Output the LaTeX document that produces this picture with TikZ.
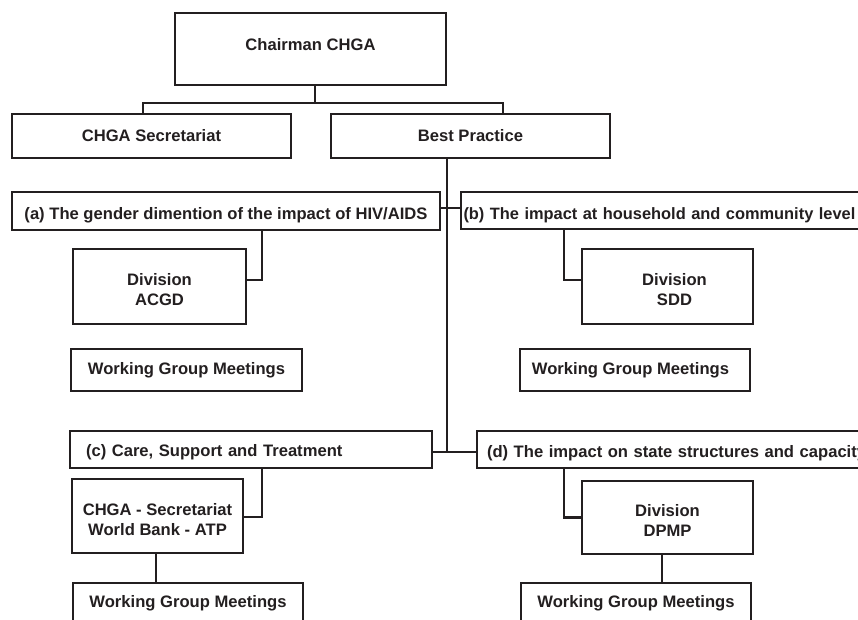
\documentclass[tikz,border=0pt]{standalone}
\usepackage{fontspec}
\setmainfont{Liberation Sans}
\definecolor{ink}{HTML}{231F20}
\begin{document}
\begin{tikzpicture}[x=1pt,y=-1pt,
  every node/.style={font=\fontsize{16.6}{20}\selectfont\bfseries, text=ink},
  box/.style={draw=ink, line width=2.1pt, inner sep=0pt},
  conn/.style={draw=ink, line width=2.1pt},
  one/.style={text height=#1, text depth=0pt},
  two/.style={align=center, text height=38pt, text depth=0pt}
]
\useasboundingbox (0,0) rectangle (858,620);
\fill[white] (0,0) rectangle (858,620);
\clip (0,0) rectangle (858,620);

\node[box, one=4pt, minimum width=271pt, minimum height=72pt] (chair) at (310.5,49) {Chairman CHGA};
\node[box, one=12pt, minimum width=279pt, minimum height=44pt] (sec) at (151.5,136) {CHGA Secretariat};
\node[box, one=12pt, minimum width=279pt, minimum height=44pt] (bp) at (470.5,136) {Best Practice};

\node[box, one=16pt, minimum width=428pt, minimum height=38pt] (a) at (226,211) {(a) The gender dimention of the impact of HIV/AIDS};
\node[box, one=17pt, minimum width=409pt, minimum height=37pt, inner xsep=2.5pt, text width=404pt, align=left, font=\fontsize{16.4}{20}\selectfont\bfseries] (b) at (665.5,210.5) {(b) The impact at household and community level};

\node[box, two, minimum width=173pt, minimum height=75pt] (acgd) at (159.5,286.5) {Division\\ACGD};
\node[box, two, minimum width=171pt, minimum height=75pt] (sdd) at (667.5,286.5) {\hspace*{14pt}Division\\\hspace*{14pt}SDD};

\node[box, one=8pt, minimum width=231pt, minimum height=42pt] (wgma) at (186.5,370) {Working Group Meetings};
\node[box, one=8pt, minimum width=230pt, minimum height=42pt] (wgmb) at (635,370) {Working Group Meetings\hspace*{9pt}};

\node[box, one=14pt, minimum width=362pt, minimum height=37pt, inner xsep=16pt, text width=330pt, align=left] (c) at (251,449.5) {(c) Care, Support and Treatment};
\node[box, one=16pt, minimum width=403pt, minimum height=37pt, inner xsep=10pt, text width=383pt, align=left] (d) at (678.5,449.5) {(d) The impact on state structures and capacity};

\node[box, two, minimum width=171pt, minimum height=74pt] (cw) at (157.5,516) {CHGA - Secretariat\\World Bank - ATP};
\node[box, two, minimum width=171pt, minimum height=73pt] (dpmp) at (667.5,517.5) {Division\\DPMP};

\node[box, one=7pt, minimum width=230pt, minimum height=41pt] (wgmc) at (188,603.5) {Working Group Meetings};
\node[box, one=7pt, minimum width=230pt, minimum height=41pt] (wgmd) at (636,603.5) {Working Group Meetings};

\coordinate (j) at (315,103);
\coordinate (m) at (447,452);

\draw[conn] ([xshift=4.5pt]chair.south) -- (j);
\draw[conn] ([xshift=-8.5pt]sec.north) |- (j) -| ([xshift=32.5pt]bp.north);
\draw[conn] ([xshift=-23.5pt]bp.south) -- (m);
\draw[conn] ([yshift=3pt]a.east) -- ([yshift=2.5pt]b.west);
\draw[conn] ([yshift=-2.5pt]c.east) -- ([yshift=-2.5pt]d.west);
\draw[conn] ([xshift=36pt]a.south) |- ([yshift=6.5pt]acgd.east);
\draw[conn] ([xshift=-101.5pt]b.south) |- ([yshift=6.5pt]sdd.west);
\draw[conn] ([xshift=11pt]c.south) |- ([yshift=-1pt]cw.east);
\draw[conn] ([xshift=-1.5pt]cw.south) -- ([xshift=-1.5pt]cw.south |- wgmc.north);
\draw[conn] ([xshift=-114.5pt]d.south) |- (dpmp.west);
\draw[conn] ([xshift=-5.5pt]dpmp.south) -- ([xshift=-5.5pt]dpmp.south |- wgmd.north);
\end{tikzpicture}
\end{document}
